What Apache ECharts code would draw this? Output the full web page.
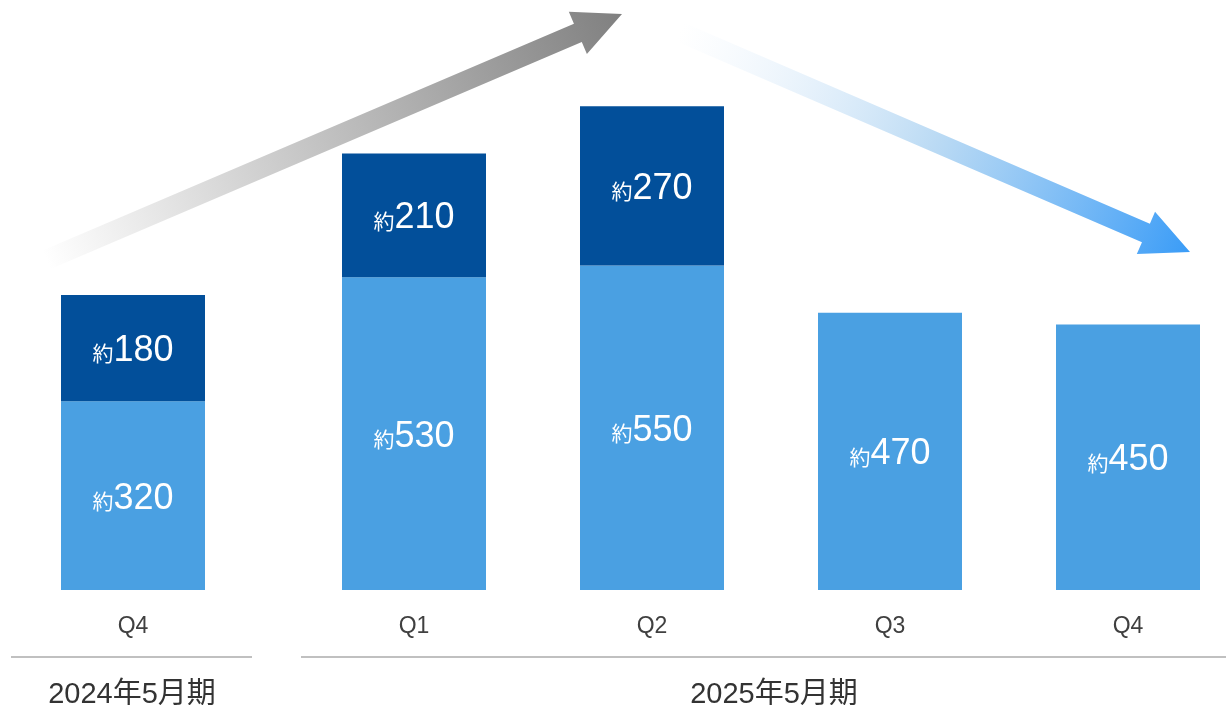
<!DOCTYPE html>
<html>
<head>
<meta charset="utf-8">
<script src="https://cdn.jsdelivr.net/npm/echarts@6/dist/echarts.min.js"></script>
<style>
  html, body { margin: 0; padding: 0; background: #fff; }
  #chart { width: 1226px; height: 705px; }
</style>
</head>
<body>
<div id="chart"></div>
<script>
// Fiscal periods and their quarters
const periods = ['2024年5月期', '2025年5月期'];
const quarters2024 = ['Q4'];
const quarters2025 = ['Q1', 'Q2', 'Q3', 'Q4'];

// Stacked values (lower light segment, upper dark segment)
const base2024 = [320];
const extra2024 = [180];
const base2025 = [530, 550, 470, 450];
const extra2025 = [210, 270, null, null];

const LIGHT = '#4aa0e2';
const DARK = '#024f9a';
const FONT = '"Liberation Sans", Arial, "Noto Sans CJK JP", sans-serif';

const chart = echarts.init(document.getElementById('chart'), null, { renderer: 'canvas' });

const valueLabel = {
  show: true,
  position: 'inside',
  offset: [0, 3],
  formatter: p => '{a|約}{b|' + p.value + '}',
  rich: {
    a: { fontSize: 21, color: '#fff', fontFamily: FONT, padding: [9, 0, 0, 0] },
    b: { fontSize: 36, color: '#fff', fontFamily: FONT }
  }
};

// Arrow polygon: shaft from tail centre to tip, with a triangular head
function arrowPoints(tail, tip, shaftW, headW, headL) {
  const dx = tip[0] - tail[0], dy = tip[1] - tail[1];
  const len = Math.hypot(dx, dy);
  const ux = dx / len, uy = dy / len;
  const nx = -uy, ny = ux;
  const bx = tip[0] - ux * headL, by = tip[1] - uy * headL;
  const s = shaftW / 2, h = headW / 2;
  return [
    [tail[0] + nx * s, tail[1] + ny * s],
    [bx + nx * s, by + ny * s],
    [bx + nx * h, by + ny * h],
    tip,
    [bx - nx * h, by - ny * h],
    [bx - nx * s, by - ny * s],
    [tail[0] - nx * s, tail[1] - ny * s]
  ];
}

function arrow(tail, tip, stops) {
  return {
    type: 'polygon',
    z: -1,
    shape: { points: arrowPoints(tail, tip, 20, 46, 48) },
    style: {
      fill: new echarts.graphic.LinearGradient(
        tail[0], tail[1], tip[0], tip[1], stops, true
      )
    }
  };
}

const axisLabelStyle = { color: '#404040', fontSize: 23, fontFamily: FONT, margin: 25 };

const option = {
  backgroundColor: '#fff',
  animation: false,
  grid: [
    { left: 14, width: 238, top: 0, bottom: 115 },
    // quarters of the current period sit on the tick points
    { left: 414, width: 714, top: 0, bottom: 115 }
  ],
  xAxis: [
    {
      type: 'category', gridIndex: 0, data: quarters2024,
      axisLine: { show: false }, axisTick: { show: false },
      axisLabel: axisLabelStyle
    },
    {
      type: 'category', gridIndex: 1, data: quarters2025, boundaryGap: false,
      axisLine: { show: false }, axisTick: { show: false },
      axisLabel: axisLabelStyle
    }
  ],
  yAxis: [
    { type: 'value', gridIndex: 0, min: 0, max: 1000, show: false },
    { type: 'value', gridIndex: 1, min: 0, max: 1000, show: false }
  ],
  series: [
    {
      type: 'bar', xAxisIndex: 0, yAxisIndex: 0, stack: 'p0', barWidth: 144,
      data: base2024, itemStyle: { color: LIGHT }, label: valueLabel
    },
    {
      type: 'bar', xAxisIndex: 0, yAxisIndex: 0, stack: 'p0', barWidth: 144,
      data: extra2024, itemStyle: { color: DARK }, label: valueLabel
    },
    {
      type: 'bar', xAxisIndex: 1, yAxisIndex: 1, stack: 'p1', barWidth: 144,
      data: base2025, itemStyle: { color: LIGHT }, label: valueLabel
    },
    {
      type: 'bar', xAxisIndex: 1, yAxisIndex: 1, stack: 'p1', barWidth: 144,
      data: extra2025, itemStyle: { color: DARK }, label: valueLabel
    }
  ],
  graphic: [
    arrow([46, 260], [622, 14], [
      { offset: 0, color: 'rgba(128,128,128,0)' },
      { offset: 1, color: '#808080' }
    ]),
    arrow([680, 32], [1190, 252], [
      { offset: 0, color: 'rgba(220,235,250,0)' },
      { offset: 0.5, color: 'rgba(175,212,242,0.85)' },
      { offset: 1, color: '#3a9cf7' }
    ]),
    // period separators and names
    { type: 'line', shape: { x1: 11, y1: 657, x2: 252, y2: 657 },
      style: { stroke: '#c0c0c0', lineWidth: 2 } },
    { type: 'line', shape: { x1: 301, y1: 657, x2: 1226, y2: 657 },
      style: { stroke: '#c0c0c0', lineWidth: 2 } },
    { type: 'text', x: 132, y: 695,
      style: { text: periods[0], fill: '#333', fontSize: 29, fontFamily: FONT,
               align: 'center', verticalAlign: 'middle' } },
    { type: 'text', x: 774, y: 695,
      style: { text: periods[1], fill: '#333', fontSize: 29, fontFamily: FONT,
               align: 'center', verticalAlign: 'middle' } }
  ]
};

chart.setOption(option);
</script>
</body>
</html>
